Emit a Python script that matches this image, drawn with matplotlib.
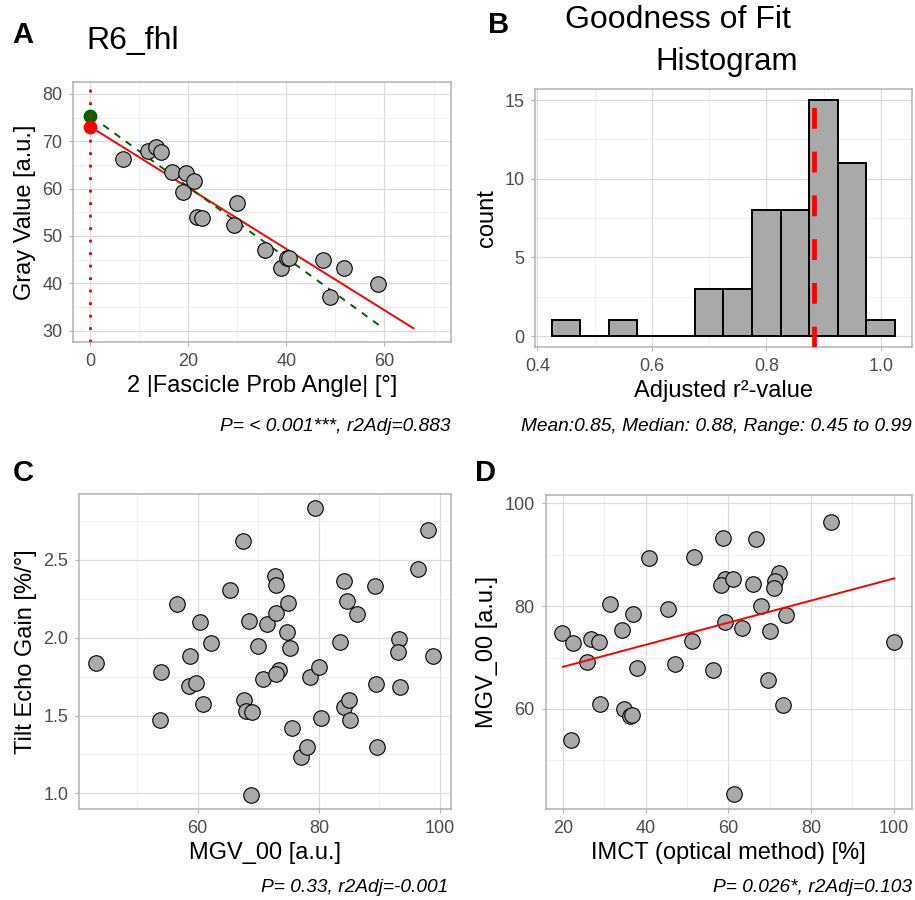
import numpy as np
import matplotlib
matplotlib.use('Agg')
import matplotlib.pyplot as plt
from matplotlib.ticker import MultipleLocator

plt.rcParams['font.family'] = ['Liberation Sans', 'DejaVu Sans']
plt.rcParams['lines.scale_dashes'] = False

# --- A: gray value vs fascicle angle (R6_fhl)
angle = [6.7, 11.8, 13.4, 14.4, 16.8, 19.5, 18.9, 21.1, 21.9, 22.9,
         29.3, 30.0, 35.6, 38.9, 40.1, 40.6, 47.5, 49.0, 51.8, 58.6]
gray_val = [66.2, 68.0, 68.7, 67.7, 63.6, 63.3, 59.2, 61.5, 53.9, 53.7,
            52.3, 57.0, 47.0, 43.3, 45.4, 45.4, 45.0, 37.2, 43.3, 39.8]
fit_red_x = [0, 65.9]
fit_red_y = [73.1, 30.5]
fit_green_x = [2.7, 59.1]
fit_green_y = [73.4, 31.0]
icpt_red = 73.1
icpt_green = 75.4

# --- B: histogram of adjusted r2
bin_centers = [0.45, 0.50, 0.55, 0.60, 0.65, 0.70, 0.75, 0.80, 0.85, 0.90, 0.95, 1.00]
bin_counts = [1, 0, 1, 0, 0, 3, 3, 8, 8, 15, 11, 1]
median_r2 = 0.883

# --- C: tilt echo gain vs MGV_00
mgv_c = [43.2, 53.9, 53.7, 56.6, 58.8, 58.5, 59.8, 60.4, 60.8, 62.2,
         65.4, 67.4, 67.6, 68.0, 69.0, 68.5, 68.8, 70.0, 70.7, 71.4,
         72.8, 72.9, 73.0, 73.5, 72.9, 74.9, 74.7, 75.3, 75.6, 77.0,
         78.0, 78.5, 80.0, 80.3, 83.5, 84.2, 84.7, 86.3, 84.1, 85.0,
         85.2, 89.3, 89.4, 89.6, 93.3, 93.0, 93.4, 96.3, 98.0, 98.9, 79.4]
tilt_gain = [1.839, 1.777, 1.473, 2.215, 1.882, 1.689, 1.708, 2.102, 1.573, 1.965,
             2.307, 2.620, 1.601, 1.531, 1.524, 2.108, 0.993, 1.948, 1.736, 2.089,
             2.395, 2.335, 2.155, 1.790, 1.768, 2.222, 2.036, 1.933, 1.419, 1.231,
             1.300, 1.745, 1.813, 1.484, 1.971, 2.363, 2.233, 2.153, 1.556, 1.597,
             1.473, 2.333, 1.700, 1.297, 1.993, 1.905, 1.680, 2.440, 2.688, 1.882, 2.830]

# --- D: MGV_00 vs IMCT
imct = [19.8, 22.3, 22.0, 25.7, 26.7, 28.6, 29.0, 31.3, 34.2, 34.7,
        36.1, 36.6, 36.9, 37.9, 40.9, 45.5, 47.1, 51.2, 51.6, 56.4,
        58.7, 59.1, 58.3, 59.2, 61.2, 61.5, 63.3, 66.0, 66.8, 68.0,
        69.5, 70.0, 72.3, 71.4, 71.1, 73.2, 74.0, 84.9, 100.2]
mgv_d = [74.7, 72.8, 54.0, 69.1, 73.6, 73.0, 61.0, 80.4, 75.4, 60.0,
         58.6, 58.9, 78.5, 68.0, 89.3, 79.5, 68.8, 73.3, 89.6, 67.5,
         93.3, 85.2, 84.1, 77.0, 85.2, 43.4, 75.7, 84.3, 93.1, 80.1,
         65.7, 75.2, 86.5, 84.9, 83.6, 60.7, 78.2, 96.3, 73.1]
fit_d_x = [20.0, 100.2]
fit_d_y = [68.2, 85.4]

W, H = 915, 900
fig = plt.figure(figsize=(W / 100, H / 100), dpi=100)


def box(left, top, right, bottom):
    return [left / W, 1 - bottom / H, (right - left) / W, (bottom - top) / H]


def px(x, y):
    return x / W, 1 - y / H


def style(ax, xlim, ylim, xmaj, ymaj):
    ax.set_xlim(xlim)
    ax.set_ylim(ylim)
    ax.xaxis.set_major_locator(MultipleLocator(xmaj))
    ax.xaxis.set_minor_locator(MultipleLocator(xmaj / 2))
    ax.yaxis.set_major_locator(MultipleLocator(ymaj))
    ax.yaxis.set_minor_locator(MultipleLocator(ymaj / 2))
    ax.set_axisbelow(True)
    ax.grid(which='major', color='#DCDCDC', lw=0.9)
    ax.grid(which='minor', color='#ECECEC', lw=0.6)
    for s in ax.spines.values():
        s.set_color('#B3B3B3')
        s.set_linewidth(1.1)
    ax.tick_params(which='major', length=2.75, width=0.8, color='#B3B3B3',
                   labelcolor='#4D4D4D', labelsize=13, pad=5.2)
    ax.tick_params(which='minor', length=0)


pt_kw = dict(s=125, c='#A9A9A9', edgecolors='black', linewidths=0.8, zorder=3)
lab = dict(fontsize=17)

# A
axA = fig.add_axes(box(73.3, 82, 450.7, 342))
style(axA, (-3.4, 73.5), (27.6, 82.5), 20, 10)
axA.plot(fit_red_x, fit_red_y, color='red', lw=1.4, zorder=2)
axA.plot(fit_green_x, fit_green_y, color='#006400', lw=1.4, dashes=(5, 5), zorder=2)
axA.scatter(angle, gray_val, **pt_kw)
axA.scatter([0], [icpt_green], s=80, c='#006400', zorder=4)
axA.scatter([0], [icpt_red], s=80, c='red', zorder=4)
axA.axvline(0, color='red', lw=2.1, dashes=(2, 7), zorder=5)
axA.set_xlabel('2 |Fascicle Prob Angle| [°]', labelpad=3.5, **lab)
axA.set_ylabel('Gray Value [a.u.]', labelpad=4.5, **lab)

# B
axB = fig.add_axes(box(535.3, 88.7, 911.7, 346.7))
style(axB, (0.3965, 1.054), (-0.68, 15.72), 0.2, 5)
axB.bar(bin_centers, bin_counts, width=0.05, color='#A9A9A9', edgecolor='black',
        linewidth=1.4, zorder=2)
axB.axvline(median_r2, color='red', lw=3.4, dashes=(15, 16.5), zorder=3)
axB.set_xlabel('Adjusted r²-value', labelpad=3.5, **lab)
axB.set_ylabel('count', labelpad=4.5, **lab)

# C
axC = fig.add_axes(box(79.3, 494.3, 450.7, 809))
style(axC, (40.46, 101.76), (0.9, 2.92), 20, 0.5)
axC.scatter(mgv_c, tilt_gain, **pt_kw)
axC.set_xlabel('MGV_00 [a.u.]', labelpad=3.5, **lab)
axC.set_ylabel('Tilt Echo Gain [%/°]', labelpad=4.5, **lab)

# D
axD = fig.add_axes(box(545.7, 495, 911.7, 809))
style(axD, (15.8, 104.4), (40.56, 101.6), 20, 20)
axD.scatter(imct, mgv_d, **pt_kw)
axD.plot(fit_d_x, fit_d_y, color='red', lw=1.4, zorder=4)
axD.set_xlabel('IMCT (optical method) [%]', labelpad=3.5, **lab)
axD.set_ylabel('MGV_00 [a.u.]', labelpad=4.5, **lab)

# panel letters, titles, captions
fig.text(*px(12, 42.7), 'A', fontsize=21, weight='bold', va='baseline')
fig.text(*px(86, 49.3), 'R6_fhl', fontsize=23, va='baseline')
fig.text(*px(488, 33.3), 'B', fontsize=21, weight='bold', va='baseline')
fig.text(*px(565, 28.3), 'Goodness of Fit', fontsize=23, va='baseline')
fig.text(*px(655, 70), 'Histogram', fontsize=22.5, va='baseline')
fig.text(*px(13, 480.7), 'C', fontsize=21, weight='bold', va='baseline')
fig.text(*px(475, 480.7), 'D', fontsize=21, weight='bold', va='baseline')

cap = dict(fontsize=13.8, style='italic', ha='right', va='baseline')
fig.text(*px(450.7, 431), 'P= < 0.001***, r2Adj=0.883', **cap)
fig.text(*px(911.7, 431), 'Mean:0.85, Median: 0.88, Range: 0.45 to 0.99', **cap)
fig.text(*px(448.3, 891.7), 'P= 0.33, r2Adj=-0.001', **cap)
fig.text(*px(911.7, 892), 'P= 0.026*, r2Adj=0.103', **cap)

fig.savefig('out.png', dpi=100)
